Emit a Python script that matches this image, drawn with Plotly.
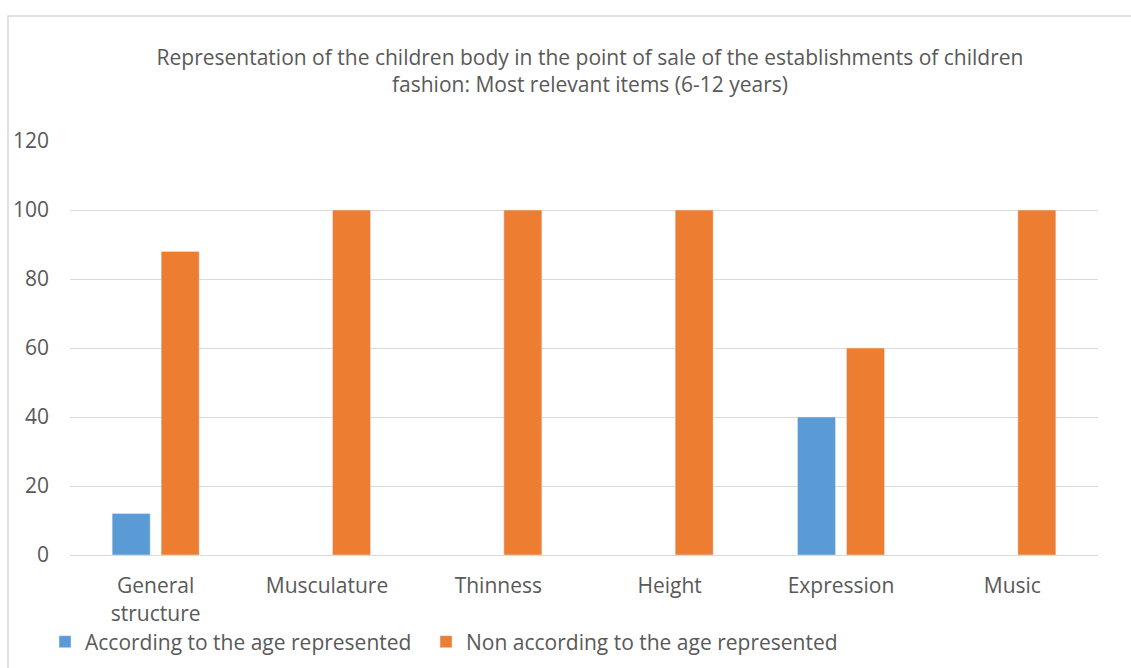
import plotly.graph_objects as go

categories = ["General<br>structure", "Musculature", "Thinness", "Height", "Expression", "Music"]
according = [12, None, None, None, 40, None]
non_according = [88, 100, 100, 100, 60, 100]
series_names = ["According to the age represented", "Non according to the age represented"]
colors = ["#5B9BD5", "#ED7D31"]
y_ticks = [0, 20, 40, 60, 80, 100, 120]
title_text = ("Representation of the children body in the point of sale of the establishments of children"
              "<br>fashion: Most relevant items (6-12 years)")

W, H = 1131, 668
L, R, T, B = 70, 33, 141, 113
pw, ph = W - L - R, H - T - B

fig = go.Figure()
fig.add_trace(go.Bar(x=categories, y=according, name=series_names[0], marker_color=colors[0],
                     legend="legend"))
fig.add_trace(go.Bar(x=categories, y=non_according, name=series_names[1], marker_color=colors[1],
                     legend="legend2"))

font_family = "Open Sans"
txt = "#595959"
fs = 21
leg_y = -(642 - (H - B)) / ph

fig.update_layout(
    width=W, height=H,
    margin=dict(l=L, r=R, t=T, b=B, autoexpand=False),
    paper_bgcolor="white", plot_bgcolor="white",
    barmode="group", bargap=0.428, bargroupgap=0.224,
    font=dict(family=font_family, color=txt, size=fs),
    title=dict(text=title_text, x=(590) / W, xanchor="center", y=1 - 65 / H, yanchor="middle",
               font=dict(size=fs, color=txt, family=font_family)),
    showlegend=True,
    legend=dict(orientation="h", x=(45 - L) / pw, xanchor="left", y=leg_y, yanchor="middle",
                font=dict(size=fs, color=txt), itemwidth=30, bgcolor="rgba(0,0,0,0)"),
    legend2=dict(orientation="h", x=(426 - L) / pw, xanchor="left", y=leg_y, yanchor="middle",
                 font=dict(size=fs, color=txt), itemwidth=30, bgcolor="rgba(0,0,0,0)"),
    xaxis=dict(showgrid=False, showline=True, linecolor="#d9d9d9", linewidth=1, ticks="",
               tickfont=dict(size=fs, color=txt), ticklabelstandoff=12),
    yaxis=dict(range=[0, 120], tickvals=y_ticks, showgrid=True, gridcolor="#d9d9d9", gridwidth=1,
               zeroline=False, showline=False, ticks="", tickfont=dict(size=fs, color=txt),
               ticklabelstandoff=20),
    shapes=[dict(type="rect", xref="paper", yref="paper",
                 x0=(8 - L) / pw, x1=(W + 10 - L) / pw,
                 y0=-(H + 10 - (H - B)) / ph, y1=1 + (T - 16) / ph,
                 line=dict(color="#d9d9d9", width=1.5), fillcolor="rgba(0,0,0,0)", layer="below")],
)

fig.write_html("out.html")
